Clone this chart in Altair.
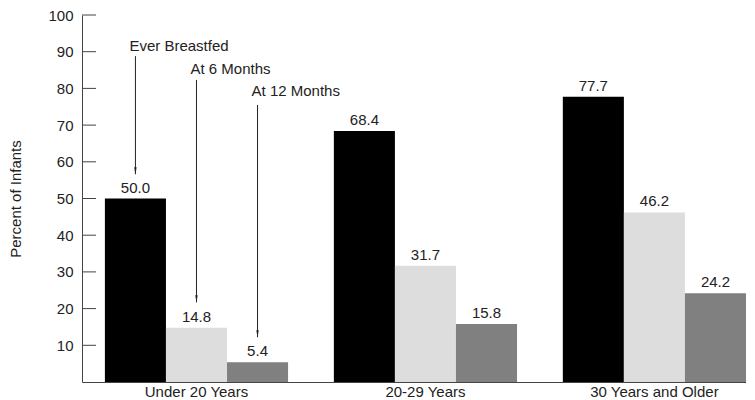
import altair as alt
import pandas as pd

groups = ["Under 20 Years", "20-29 Years", "30 Years and Older"]
series = ["Ever Breastfed", "At 6 Months", "At 12 Months"]
ever_breastfed = [50.0, 68.4, 77.7]
at_6_months = [14.8, 31.7, 46.2]
at_12_months = [5.4, 15.8, 24.2]
colors = ["#000000", "#dddddd", "#808080"]
y_ticks = [10, 20, 30, 40, 50, 60, 70, 80, 90, 100]

# annotation (callout) values, in data units
ann_label_y = [91.5, 85.3, 79.3]
ann_arrow_top = [88.8, 82.3, 75.5]
ann_arrow_tip = [56.6, 21.7, 12.2]

rows = []
for s, vals in zip(series, [ever_breastfed, at_6_months, at_12_months]):
    for g, v in zip(groups, vals):
        rows.append({"group": g, "series": s, "value": v})
df = pd.DataFrame(rows)

ann = pd.DataFrame({
    "group": [groups[0]] * 3,
    "series": series,
    "label_y": ann_label_y,
    "top": ann_arrow_top,
    "tip": ann_arrow_tip,
})
ticks = pd.DataFrame({"t": y_ticks})

FONT = "Liberation Sans"
FS = 15
TXT = "#222"

x_enc = alt.X("group:N", sort=groups,
              scale=alt.Scale(paddingInner=0.2, paddingOuter=0.05, align=1),
              axis=alt.Axis(title=None, labelAngle=0, ticks=False, domain=True,
                            domainColor="#444", labelFontSize=FS, labelColor=TXT,
                            labelFont=FONT, labelPadding=2))
xo_enc = alt.XOffset("series:N", sort=series, scale=alt.Scale(paddingInner=0, paddingOuter=0))
y_scale = alt.Scale(domain=[0, 100], nice=False)

bars = alt.Chart(df).mark_bar().encode(
    x=x_enc,
    xOffset=xo_enc,
    y=alt.Y("value:Q", scale=y_scale,
            axis=alt.Axis(title="Percent of Infants", values=y_ticks, tickSize=0,
                          domainColor="#444", labelFontSize=FS, labelColor=TXT,
                          labelFont=FONT, labelPadding=9, titleFont=FONT,
                          titleFontSize=FS, titleFontWeight="normal", titleColor=TXT,
                          titlePadding=24, grid=False)),
    color=alt.Color("series:N", sort=series, scale=alt.Scale(domain=series, range=colors),
                    legend=None),
)

labels = alt.Chart(df).mark_text(baseline="alphabetic", dy=-6, fontSize=FS,
                                 font=FONT, color=TXT).encode(
    x=alt.X("group:N", sort=groups),
    xOffset=alt.XOffset("series:N", sort=series),
    y=alt.Y("value:Q"),
    text=alt.Text("value:Q", format=".1f"),
)

tick_rules = alt.Chart(ticks).mark_rule(color="#444").encode(
    x=alt.value(0), x2=alt.value(14), y=alt.Y("t:Q"),
)

arrows = alt.Chart(ann).mark_rule(color="#222", strokeWidth=1).encode(
    x=alt.X("group:N", sort=groups),
    xOffset=alt.XOffset("series:N", sort=series),
    y=alt.Y("top:Q"), y2="tip:Q",
)

heads = alt.Chart(ann).mark_point(shape="M-0.35,-1L0.35,-1L0,1Z", filled=True,
                                  size=49, color="#222", opacity=1, yOffset=-3.5).encode(
    x=alt.X("group:N", sort=groups),
    xOffset=alt.XOffset("series:N", sort=series),
    y=alt.Y("tip:Q"),
)

ann_text = alt.Chart(ann).mark_text(align="left", baseline="middle", dx=-6,
                                    fontSize=FS, font=FONT, color=TXT).encode(
    x=alt.X("group:N", sort=groups),
    xOffset=alt.XOffset("series:N", sort=series),
    y=alt.Y("label_y:Q"),
    text="series:N",
)

chart = alt.layer(bars, labels, tick_rules, arrows, heads, ann_text).properties(
    width=664, height=367,
    padding={"left": 0, "top": 0, "right": 0, "bottom": 0},
).configure_view(stroke=None)

chart.save("out.html", embed_options={"renderer": "svg", "actions": False})
